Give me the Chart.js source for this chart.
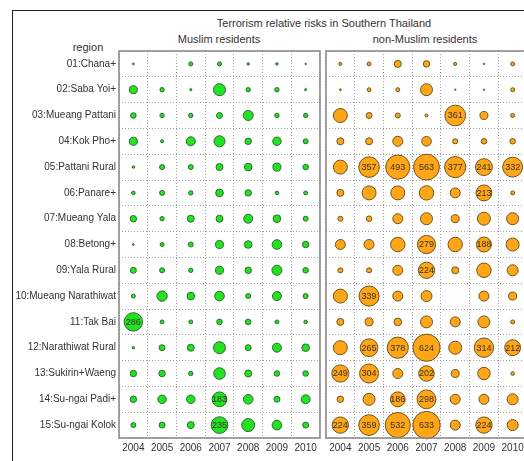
<!DOCTYPE html>
<html><head><meta charset="utf-8">
<script src="https://cdn.jsdelivr.net/npm/chart.js@4/dist/chart.umd.min.js"></script>
<style>
html,body{margin:0;padding:0;background:#fff;width:524px;height:461px;overflow:hidden;position:relative;font-family:"Liberation Sans",Arial,sans-serif;}
#frame{position:absolute;left:12px;top:10px;width:700px;height:700px;border-left:1.5px solid #222;border-top:1.5px solid #222;}
.t{position:absolute;color:#333;font-size:11px;line-height:13px;white-space:nowrap;transform:translateX(-50%);}
#c1{position:absolute;left:0;top:0;}
#c2{position:absolute;left:322px;top:0;}
</style></head><body>
<div id="frame"></div>
<div class="t" style="left:324px;top:17px">Terrorism relative risks in Southern Thailand</div>
<div class="t" style="left:219px;top:33px">Muslim residents</div>
<div class="t" style="left:425px;top:33px">non-Muslim residents</div>
<div class="t" style="left:88px;top:41px">region</div>
<canvas id="c1" width="324" height="461"></canvas>
<canvas id="c2" width="210" height="461"></canvas>
<script>
const years = ["2004","2005","2006","2007","2008","2009","2010"];
const regions = ["01:Chana+","02:Saba Yoi+","03:Mueang Pattani","04:Kok Pho+","05:Pattani Rural","06:Panare+","07:Mueang Yala","08:Betong+","09:Yala Rural","10:Mueang Narathiwat","11:Tak Bai","12:Narathiwat Rural","13:Sukirin+Waeng","14:Su-ngai Padi+","15:Su-ngai Kolok"];

// relative risk per region (rows) and year (columns)
const muslimRisk = [
  [3, 0, 14, 14, 5, 5, 2],
  [54, 16, 4, 121, 16, 16, 4],
  [26, 16, 16, 30, 84, 16, 16],
  [54, 8, 68, 102, 35, 60, 21],
  [5, 21, 21, 41, 49, 54, 26],
  [11, 21, 16, 49, 35, 11, 13],
  [35, 16, 41, 41, 68, 49, 21],
  [3, 13, 21, 54, 49, 78, 35],
  [30, 21, 16, 54, 35, 84, 26],
  [13, 91, 49, 78, 21, 68, 21],
  [286, 13, 13, 26, 26, 13, 11],
  [5, 30, 41, 121, 30, 68, 49],
  [35, 35, 16, 113, 41, 26, 26],
  [35, 60, 60, 183, 78, 30, 68],
  [21, 30, 41, 235, 142, 78, 30]
];
const nonMuslimRisk = [
  [8, 13, 41, 35, 8, 2, 13],
  [3, 13, 13, 121, 2, 2, 13],
  [165, 30, 21, 8, 361, 54, 13],
  [41, 41, 84, 78, 21, 26, 26],
  [165, 357, 493, 563, 377, 241, 332],
  [41, 165, 165, 175, 84, 213, 13],
  [21, 26, 84, 121, 54, 142, 121],
  [84, 84, 175, 279, 175, 188, 142],
  [21, 21, 84, 224, 41, 175, 102],
  [165, 339, 84, 102, 0, 84, 54],
  [41, 54, 49, 121, 84, 121, 13],
  [165, 265, 378, 624, 142, 314, 212],
  [249, 304, 84, 202, 54, 130, 11],
  [35, 121, 186, 298, 84, 84, 102],
  [224, 359, 532, 633, 84, 224, 102]
];
const labelThreshold = 180;

function toPoints(mat){
  const pts=[];
  mat.forEach((row,i)=>row.forEach((v,j)=>{ if(v>0) pts.push({x:years[j],y:regions[i],v:v}); }));
  return pts;
}
const rad = ctx => (ctx.raw && ctx.raw.v) ? 0.545*Math.sqrt(ctx.raw.v) : 0;

const panelPlugin = {
  id:'panel',
  afterDatasetsDraw(chart){
    const ctx = chart.ctx;
    chart.data.datasets.forEach((ds,di)=>{
      const meta = chart.getDatasetMeta(di);
      meta.data.forEach((el,k)=>{
        const p = ds.data[k];
        if(p.v >= labelThreshold){
          ctx.save();
          ctx.font = '9px "Liberation Sans", Arial, sans-serif';
          ctx.fillStyle = '#3a3020';
          ctx.textAlign='center'; ctx.textBaseline='middle';
          ctx.fillText(String(p.v), el.x, el.y+0.5);
          ctx.restore();
        }
      });
    });
    const a = chart.chartArea;
    ctx.save();
    ctx.strokeStyle = '#8c8c8c'; ctx.lineWidth = 1.6;
    ctx.strokeRect(a.left, a.top, a.right-a.left, a.bottom-a.top);
    ctx.restore();
  }
};

function makeChart(id, mat, fill, edge, showY, pad){
  return new Chart(document.getElementById(id), {
    type:'bubble',
    data:{datasets:[{data:toPoints(mat), backgroundColor:fill, borderColor:edge, borderWidth:1, radius:rad, hoverRadius:0}]},
    options:{
      responsive:false, animation:false, events:[],
      layout:{padding:pad, autoPadding:false},
      plugins:{legend:{display:false}, tooltip:{enabled:false}},
      scales:{
        x:{type:'category', labels:years, offset:true,
           grid:{offset:true, color:'#a0a0a0', lineWidth:1, drawTicks:false},
           border:{display:false, dash:[1,2]},
           ticks:{color:'#333', font:{size:10, family:'"Liberation Sans", Arial, sans-serif'}, padding:4, autoSkip:false, maxRotation:0},
           afterFit(s){ s.height = 23; s.paddingLeft = 0; s.paddingRight = 0; }},
        y:{type:'category', labels:regions, offset:true,
           grid:{offset:true, color:'#a0a0a0', lineWidth:1, drawTicks:false},
           border:{display:false, dash:[1,2]},
           ticks:{display:showY, color:'#333', font:{size:10, family:'"Liberation Sans", Arial, sans-serif'}, padding:3, autoSkip:false},
           afterFit(s){ s.width = showY ? 119 : 0; s.paddingTop = 0; s.paddingBottom = 0; }}
      }
    },
    plugins:[panelPlugin]
  });
}
makeChart('c1', muslimRisk, '#22e322', '#2c6a2c', true, {top:51, right:4, left:0, bottom:0});
makeChart('c2', nonMuslimRisk, '#ffa617', '#6e5220', false, {top:51, right:5, left:4, bottom:0});
</script>
</body></html>
